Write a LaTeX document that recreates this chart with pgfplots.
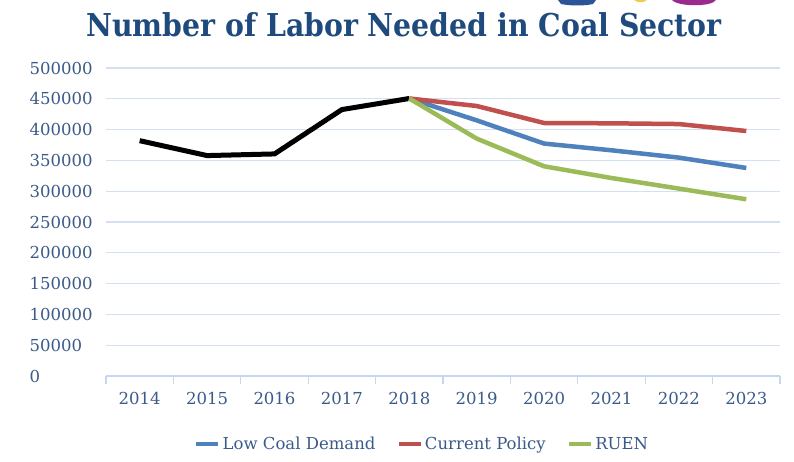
\documentclass[border=0pt]{standalone}
\usepackage{fontspec}
\setmainfont{DejaVu Serif}
\newfontfamily\titlefont{DejaVu Serif Condensed}
\usepackage{pgfplots}
\pgfplotsset{compat=1.18}
\definecolor{TitleBlue}{HTML}{1F4A7E}
\definecolor{LabelBlue}{HTML}{3A5A89}
\definecolor{GridBlue}{HTML}{D3E0F2}
\definecolor{AxisBlue}{HTML}{C5D6EE}
\definecolor{LowBlue}{HTML}{4F81BD}
\definecolor{PolicyRed}{HTML}{C0504D}
\definecolor{RuenGreen}{HTML}{9BBB59}
\definecolor{LogoBlue}{HTML}{2B5597}
\definecolor{LogoYellow}{HTML}{F2CB4E}
\definecolor{LogoPurple}{HTML}{9A2B8E}

\begin{document}
\begin{tikzpicture}[x=1pt,y=1pt]
\begin{axis}[
    scale only axis,
    width=674pt,height=308pt,
    xmin=-0.5,xmax=9.5,
    ymin=0,ymax=500000,
    xtick={-0.5,0.5,...,9.5},
    x tick label as interval,
    xticklabels={2014,2015,2016,2017,2018,2019,2020,2021,2022,2023},
    xticklabel style={yshift=-5pt},
    ytick={0,50000,...,500000},
    scaled y ticks=false,
    yticklabel style={/pgf/number format/fixed,/pgf/number format/1000 sep={},
      anchor=west,xshift=-72pt},
    /pgf/number format/assume math mode=true,
    tick label style={font=\fontsize{16.5}{18}\selectfont,text=LabelBlue},
    axis x line*=bottom,
    axis y line*=left,
    x axis line style={draw=AxisBlue,line width=1.3pt,-},
    y axis line style={draw=none},
    xtick style={draw=AxisBlue,line width=1.3pt},
    ytick style={draw=none},
    tick align=outside,
    major tick length=8pt,
    ymajorgrids,
    grid style={draw=GridBlue,line width=1.3pt},
    legend columns=3,
    legend style={at={(0.469,-0.221)},anchor=center,draw=none,fill=none,
      font=\fontsize{16.5}{18}\selectfont,text=LabelBlue,
      /tikz/every even column/.append style={column sep=19pt}},
    legend image code/.code={\draw[#1] (0pt,0pt) -- (22pt,0pt);},
  ]
  \coordinate (o) at (rel axis cs:0,0);
  \addplot[color=black,line width=5pt,mark=none,forget plot] coordinates {
    (0,382000) (1,357800) (2,360500) (3,432500) (4,450500)
  };
  \addplot[color=LowBlue,line width=4.5pt,mark=none] coordinates {
    (4,450500) (5,415000) (6,377300) (7,366400) (8,354500) (9,337700)
  };
  \addlegendentry{Low Coal Demand}
  \addplot[color=PolicyRed,line width=4.5pt,mark=none] coordinates {
    (4,450500) (5,438300) (6,410700) (7,410200) (8,409000) (9,397700)
  };
  \addlegendentry{Current Policy}
  \addplot[color=RuenGreen,line width=4.5pt,mark=none] coordinates {
    (4,450500) (5,385400) (6,340400) (7,321400) (8,304200) (9,286900)
  };
  \addlegendentry{RUEN}
\end{axis}
% page frame and title placed from the axis corner (106,86 from bottom left)
\pgfresetboundingbox
\begin{scope}[shift={(o)}]
\path[use as bounding box] (-106,-86) rectangle (688,376);
% bits of a logo cut off at the top edge
\begin{scope}[shift={(-106,-86)}]
\fill[LogoBlue] (558,462) -- (596,462) -- (593,458) .. controls (585,456) and (570,456) .. (561,458) -- cycle;
\fill[LogoYellow] (634,462) -- (647,462) .. controls (644,459) and (637,459) .. cycle;
\fill[LogoPurple] (672,462) -- (716,462) .. controls (712,455) and (678,455) .. cycle;
\node[anchor=base,inner sep=0,text=TitleBlue,
  font=\titlefont\bfseries\fontsize{31.5}{34}\selectfont] at (404,425.5)
  {Number of Labor Needed in Coal Sector};
\end{scope}
\end{scope}
\end{tikzpicture}
\end{document}
